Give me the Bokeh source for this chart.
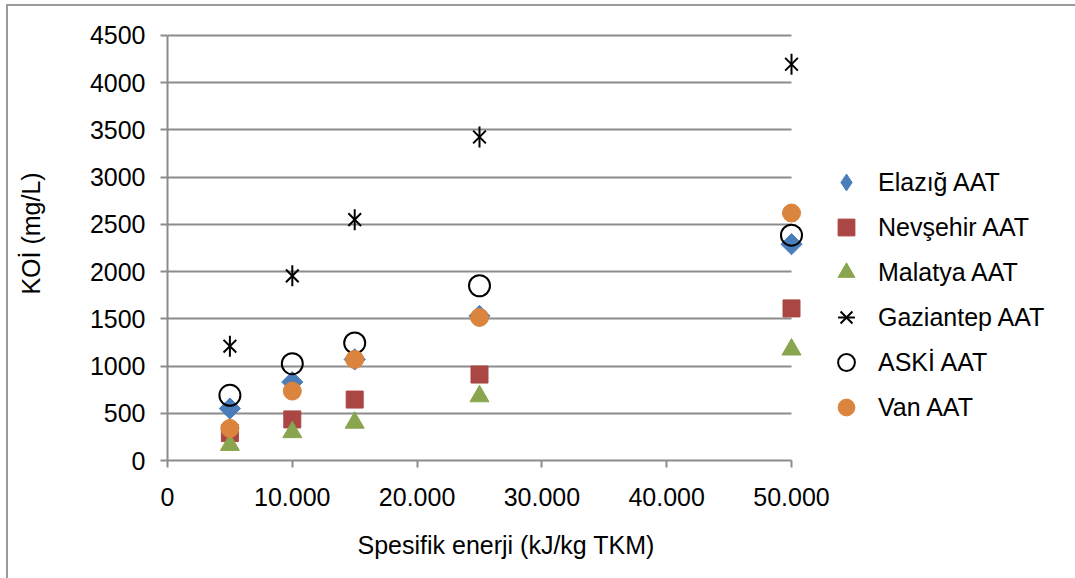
import math
from bokeh.plotting import figure
from bokeh.models import (Range1d, FixedTicker, Legend, LegendItem, Title)
from bokeh.embed import file_html
from bokeh.resources import INLINE

# ---- data ----
energy = [5000, 10000, 15000, 25000, 50000]
elazig = [550, 830, 1070, 1530, 2290]
nevsehir = [290, 435, 645, 910, 1610]
malatya = [165, 300, 400, 680, 1175]
gaziantep = [1210, 1955, 2550, 3425, 4195]
aski = [690, 1025, 1245, 1850, 2385]
van = [340, 735, 1070, 1515, 2620]

series_names = ["Elazığ AAT", "Nevşehir AAT", "Malatya AAT",
                "Gaziantep AAT", "ASKİ AAT", "Van AAT"]
x_ticks = [0, 10000, 20000, 30000, 40000, 50000]
x_tick_labels = ["0", "10.000", "20.000", "30.000", "40.000", "50.000"]
y_ticks = [0, 500, 1000, 1500, 2000, 2500, 3000, 3500, 4000, 4500]
x_title = "Spesifik enerji (kJ/kg TKM)"
y_title = "KOİ (mg/L)"

FONT = "Liberation Sans"
FS = "25px"
GRID = "#8C8C8C"
BLUE, RED, GREEN, ORANGE = "#4A7EBB", "#AA4643", "#89A54E", "#DB843D"

# frame: page x 167..1075 (0..50000 spans 624 px), page y 6..461 (0..4500 spans 426 px)
X_MAX = 50000 * 908 / 624
Y_MAX = 4500 * 455 / 426

p = figure(width=1067, height=572, output_backend="svg", toolbar_location=None,
           x_range=Range1d(0, X_MAX), y_range=Range1d(0, Y_MAX),
           min_border_left=159, min_border_right=0,
           min_border_top=0, min_border_bottom=117,
           background_fill_color="white", border_fill_color="white",
           margin=(6, 0, 0, 8))
p.styles = {"outline": "2px solid #9A9A9A"}
p.outline_line_color = None

# axes
p.xaxis.ticker = FixedTicker(ticks=x_ticks)
p.xaxis.major_label_overrides = {t: l for t, l in zip(x_ticks, x_tick_labels)}
p.xaxis.bounds = (x_ticks[0], x_ticks[-1])
p.yaxis.ticker = FixedTicker(ticks=y_ticks)
p.yaxis.bounds = (y_ticks[0], y_ticks[-1])
for ax in (p.xaxis[0], p.yaxis[0]):
    ax.axis_line_color = GRID
    ax.axis_line_width = 2
    ax.major_tick_line_color = GRID
    ax.major_tick_line_width = 2
    ax.major_tick_in = 0
    ax.major_tick_out = 7
    ax.minor_tick_line_color = None
    ax.major_label_text_font = FONT
    ax.major_label_text_font_size = FS
    ax.major_label_text_color = "black"
p.xaxis.major_label_standoff = 20
p.yaxis.major_label_standoff = 15
p.yaxis.axis_label = y_title
p.yaxis.axis_label_text_font = FONT
p.yaxis.axis_label_text_font_size = FS
p.yaxis.axis_label_text_font_style = "normal"
p.yaxis.axis_label_text_color = "black"
p.yaxis.axis_label_standoff = 42

p.xgrid.grid_line_color = None
p.ygrid.grid_line_color = GRID
p.ygrid.grid_line_width = 2
p.ygrid.cross_bounds = (x_ticks[0], x_ticks[-1])

# x-axis title, offset to sit where the original has it
p.add_layout(Title(text=x_title, align="left", offset=190, text_font=FONT,
                   text_font_size=FS, text_font_style="normal",
                   text_color="black", standoff=40), "below")

# series
r1 = p.scatter(energy, elazig, marker="square", angle=math.pi / 4, size=15,
               fill_color=BLUE, line_color=BLUE)
r2 = p.scatter(energy, nevsehir, marker="square", size=17,
               fill_color=RED, line_color=RED)
r3 = p.scatter(energy, malatya, marker="triangle", size=19,
               fill_color=GREEN, line_color=GREEN)
r4a = p.scatter(energy, gaziantep, marker="x", size=18, fill_color=None,
                line_color="black", line_width=2)
r4b = p.scatter(energy, gaziantep, marker="dash", angle=math.pi / 2, size=21,
                fill_color=None, line_color="black", line_width=2)
r5 = p.scatter(energy, aski, marker="circle", size=21, fill_color=None,
               line_color="black", line_width=2)
r6 = p.scatter(energy, van, marker="circle", size=18,
               fill_color=ORANGE, line_color=ORANGE)
# legend swatch for the diamond series (legend swatches ignore marker angle)
r1_key = p.scatter([float("nan")], [float("nan")], marker="diamond",
                   fill_color=BLUE, line_color=BLUE)

items = [LegendItem(label=series_names[0], renderers=[r1_key]),
         LegendItem(label=series_names[1], renderers=[r2]),
         LegendItem(label=series_names[2], renderers=[r3]),
         LegendItem(label=series_names[3], renderers=[r4a, r4b]),
         LegendItem(label=series_names[4], renderers=[r5]),
         LegendItem(label=series_names[5], renderers=[r6])]
legend = Legend(items=items, location=(658, 32), padding=0, margin=0,
                border_line_color=None, background_fill_alpha=0,
                glyph_width=42, glyph_height=42, label_height=23, spacing=3,
                label_standoff=11, label_text_font=FONT,
                label_text_font_size=FS, label_text_color="black",
                label_text_baseline="middle")
p.add_layout(legend, "center")

open("out.html", "w").write(file_html(p, INLINE))
